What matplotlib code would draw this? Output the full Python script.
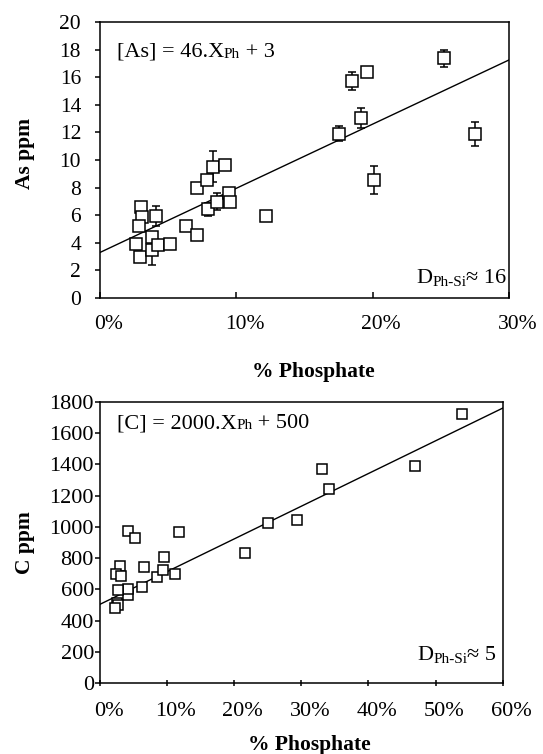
import numpy as np
import matplotlib
matplotlib.use("Agg")
import matplotlib.pyplot as plt
from matplotlib.transforms import ScaledTranslation

plt.rcParams["font.family"] = ["Liberation Serif", "DejaVu Serif"]

# ---- Arsenic vs phosphate fraction ----
as_phosphate = [3.0, 3.06, 2.86, 2.62, 2.9, 4.08, 3.79, 3.79, 4.28, 5.14,
                6.31, 7.09, 7.14, 7.83, 8.32, 9.17, 7.9, 8.56, 9.49, 9.54,
                12.15, 17.5, 18.5, 19.56, 19.13, 20.1, 25.26, 27.5]
as_ppm = [6.6, 5.9, 5.2, 3.9, 3.0, 5.94, 4.4, 3.48, 3.84, 3.88,
          5.24, 4.57, 7.99, 8.53, 9.52, 9.64, 6.42, 6.98, 7.59, 6.93,
          5.97, 11.9, 15.75, 16.35, 13.04, 8.53, 17.37, 11.88]
as_err = [0.0, 0.0, 0.0, 0.0, 0.0, 0.75, 0.0, 1.1, 0.0, 0.0,
          0.0, 0.3, 0.0, 0.0, 1.1, 0.0, 0.5, 0.6, 0.0, 0.0,
          0.0, 0.55, 0.65, 0.0, 0.7, 1.0, 0.6, 0.87]
as_fit = (46.5, 3.3)  # slope per unit phosphate fraction, intercept (ppm)

# ---- Carbon vs phosphate fraction ----
c_phosphate = [4.2, 5.2, 11.7, 9.55, 6.6, 3.0, 2.35, 3.1, 8.46, 11.2,
               9.45, 6.2, 4.2, 4.2, 2.7, 2.5, 2.7, 2.25, 21.6, 25.1,
               33.1, 34.1, 29.3, 46.9, 53.9]
c_ppm = [973, 927, 969, 805, 745, 750, 699, 688, 677, 699,
         724, 614, 564, 600, 596, 511, 501, 479, 835, 1022,
         1370, 1240, 1044, 1391, 1719]
c_fit = (2090, 505)

as_xticks = [0, 10, 20, 30]
as_yticks = list(range(0, 21, 2))
c_xticks = [0, 10, 20, 30, 40, 50, 60]
c_yticks = list(range(0, 1801, 200))

W, H = 543, 754
fig = plt.figure(figsize=(W / 100, H / 100), dpi=100)
ax1 = fig.add_axes([100 / W, 1 - 298 / H, 409 / W, 276 / H])
ax2 = fig.add_axes([100 / W, 1 - 683.3 / H, 402.7 / W, 281.6 / H])

lw = 1.1


def style_axes(ax, xticks, yticks, fs, ypad, xdir, xpad):
    for s in ax.spines.values():
        s.set_linewidth(lw)
    ax.set_xlim(xticks[0], xticks[-1])
    ax.set_ylim(yticks[0], yticks[-1])
    ax.set_xticks(xticks)
    ax.set_xticklabels([f"{t}%" for t in xticks])
    ax.set_yticks(yticks)
    ax.set_yticklabels([str(t) for t in yticks])
    ax.tick_params(axis="y", direction="out", length=3.6, width=lw,
                   pad=ypad, labelsize=fs)
    ax.tick_params(axis="x", direction=xdir, length=4.3, width=lw,
                   pad=xpad, labelsize=fs)
    shift = ScaledTranslation(8.5 / 100, 0, fig.dpi_scale_trans)
    for lab in ax.get_xticklabels():
        lab.set_transform(lab.get_transform() + shift)


def subscript_text(ax, x, y, pieces, fs=16, sub_fs=11, sub_drop=0.0):
    """Write a run of text pieces; pieces flagged True are subscripts."""
    first, _ = pieces[0]
    main = ax.text(x, y, first, transform=ax.transAxes, fontsize=fs,
                   ha="left", va="baseline")
    prev = main
    for s, is_sub in pieces[1:]:
        if is_sub:
            prev = ax.annotate(s, xy=(1, 0), xycoords=prev,
                               xytext=(0, sub_drop),
                               textcoords="offset points", fontsize=sub_fs,
                               ha="left", va="bottom")
        else:
            prev = ax.annotate(s, xy=(1, 0), xycoords=(prev, main),
                               xytext=(0, 0), textcoords="offset points",
                               fontsize=fs, ha="left", va="bottom")
    return main


style_axes(ax1, as_xticks, as_yticks, 15.5, 10, "in", 12.2)
style_axes(ax2, c_xticks, c_yticks, 16, 0.8, "inout", 11.5)

# regression lines
xs1 = np.array(ax1.get_xlim())
ax1.plot(xs1, as_fit[0] * xs1 / 100 + as_fit[1], color="black", lw=1.0,
         zorder=2)
xs2 = np.array(ax2.get_xlim())
ax2.plot(xs2, c_fit[0] * xs2 / 100 + c_fit[1], color="black", lw=1.0,
         zorder=2)

# data with error bars (open squares)
ax1.errorbar(as_phosphate, as_ppm, yerr=as_err, fmt="none", ecolor="black",
             elinewidth=1.1, capsize=3.2, capthick=1.1, zorder=3)
ax1.plot(as_phosphate, as_ppm, linestyle="none", marker="s", ms=8.5,
         mfc="white", mec="black", mew=1.1, zorder=4, clip_on=False)
ax2.plot(c_phosphate, c_ppm, linestyle="none", marker="s", ms=7.6,
         mfc="white", mec="black", mew=1.1, zorder=4, clip_on=False)

# axis labels
ax1.set_xlabel("% Phosphate", fontsize=15.5, fontweight="bold")
ax1.xaxis.set_label_coords(0.521, -0.231)
ax1.set_ylabel("As ppm", fontsize=15.5, fontweight="bold")
ax1.yaxis.set_label_coords(-0.159, 0.525)
ax2.set_xlabel("% Phosphate", fontsize=15.5, fontweight="bold")
ax2.xaxis.set_label_coords(0.519, -0.184)
ax2.set_ylabel("C ppm", fontsize=15.5, fontweight="bold")
ax2.yaxis.set_label_coords(-0.161, 0.5)

# fit equations and partition coefficients
subscript_text(ax1, 0.041, 0.874,
               [("[As] = 46.X", False), ("Ph", True), (" + 3", False)],
               sub_drop=0.8)
subscript_text(ax1, 0.773, 0.055,
               [("D", False), ("Ph-Si", True), ("\u2248 16", False)],
               sub_drop=-0.6)
subscript_text(ax2, 0.041, 0.906,
               [("[C] = 2000.X", False), ("Ph", True), (" + 500", False)],
               sub_drop=0.8)
subscript_text(ax2, 0.788, 0.083,
               [("D", False), ("Ph-Si", True), ("\u2248 5", False)],
               sub_drop=-0.6)

fig.savefig("out.png", dpi=100)
